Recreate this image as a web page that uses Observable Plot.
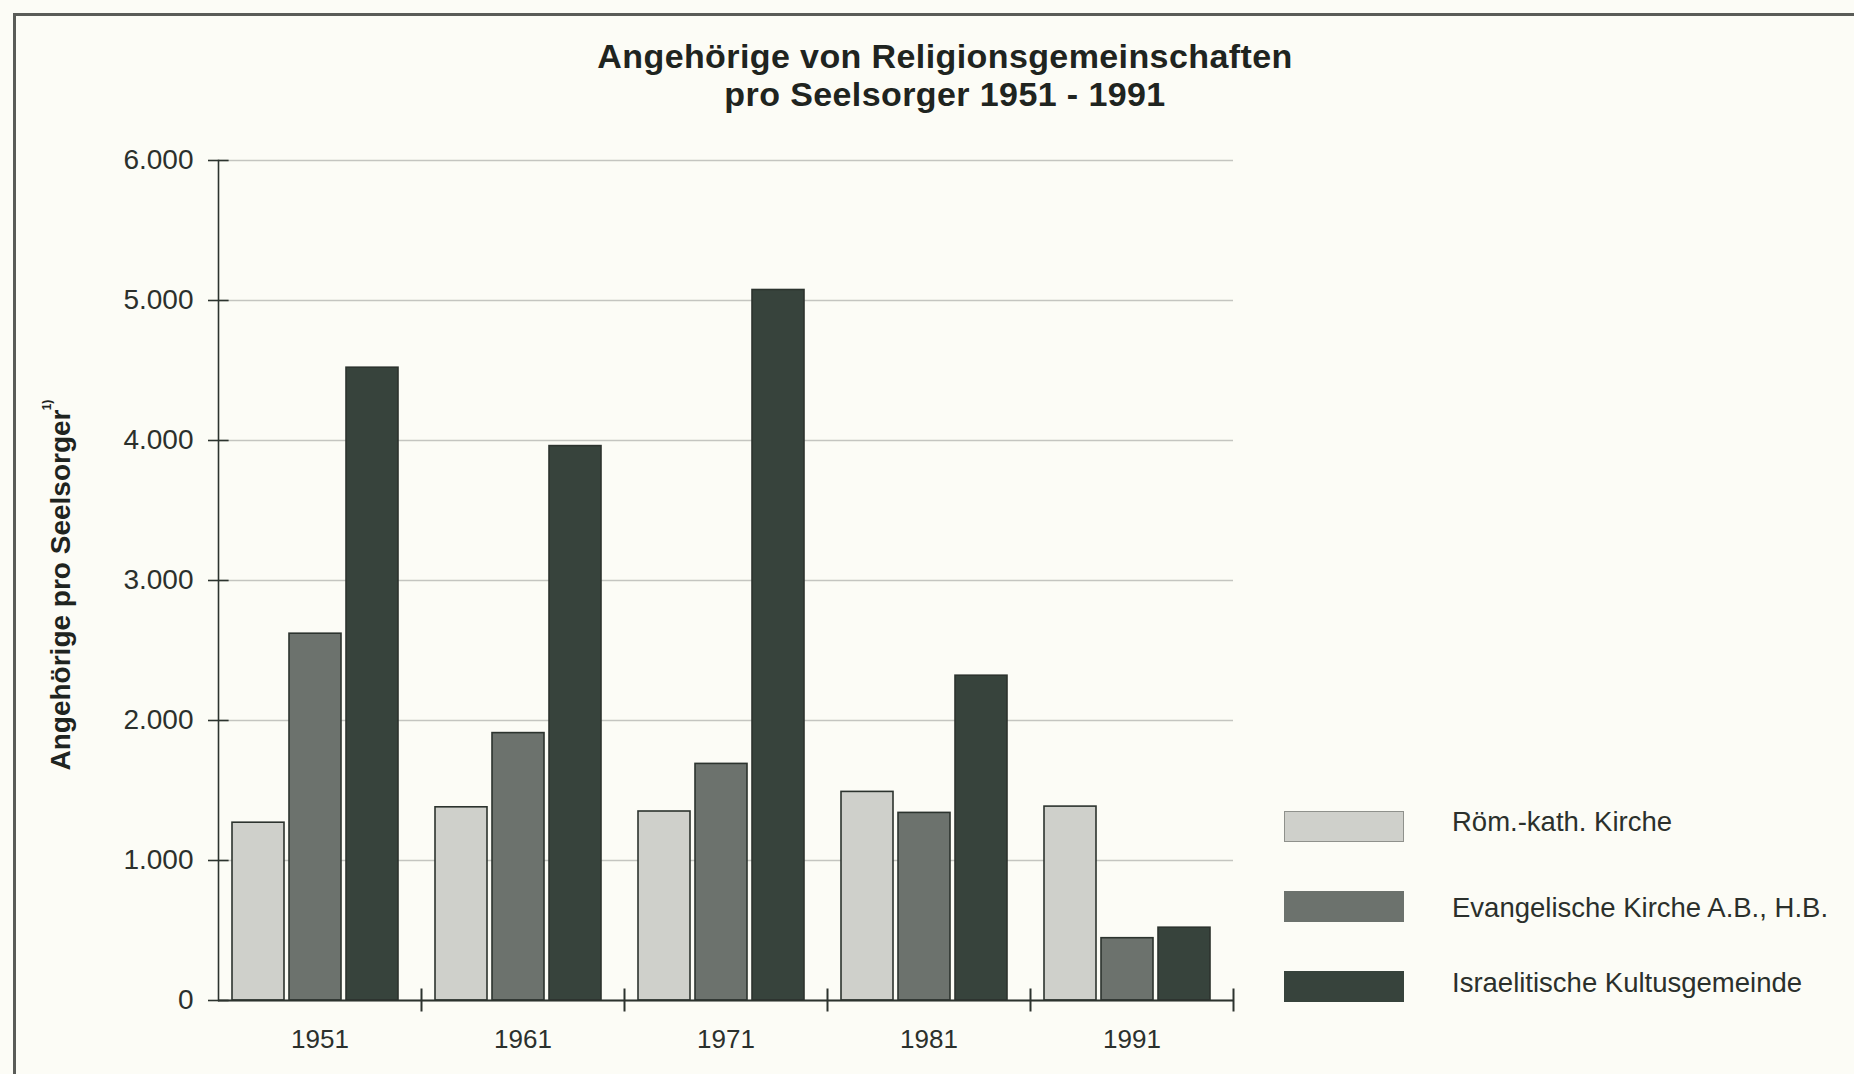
<!DOCTYPE html>
<html>
<head>
<meta charset="utf-8">
<script src="https://cdn.jsdelivr.net/npm/d3@7"></script>
<script src="https://cdn.jsdelivr.net/npm/@observablehq/plot@0.6"></script>
<style>
  html, body { margin: 0; padding: 0; background: #fcfcf6; }
  #page { position: relative; width: 1854px; height: 1074px; overflow: hidden;
          font-family: "Liberation Sans", Arial, Helvetica, sans-serif; color: #2b302c; }
  #border { position: absolute; left: 13px; top: 13px; right: -20px; bottom: -20px;
            border-left: 3px solid #5a5c58; border-top: 3px solid #5a5c58; }
  #title { position: absolute; left: 445px; width: 1000px; top: 37px; text-align: center;
           font-weight: bold; font-size: 34px; line-height: 38px; letter-spacing: 0.4px; color: #1f2420; }
  #chart { position: absolute; left: 0; top: 120px; }
  #ylabel { position: absolute; left: 61px; top: 590px; transform: translate(-50%, -50%) rotate(-90deg);
            white-space: nowrap; font-weight: bold; font-size: 28px; line-height: 1; color: #1f2420; }
  #ynote { position: absolute; left: 47px; top: 405px; transform: translate(-50%, -50%) rotate(-90deg);
           white-space: nowrap; font-weight: bold; font-size: 12px; line-height: 1; color: #1f2420; }
  .sw { position: absolute; left: 1284px; width: 120px; height: 31px; box-sizing: border-box; }
  .lt { position: absolute; left: 1452px; font-size: 27.5px; line-height: 32px; white-space: nowrap; color: #2b302c; }
</style>
</head>
<body>
<div id="page">
  <div id="border"></div>
  <div id="title"></div>
  <div id="chart"></div>
  <div id="ylabel"></div>
  <div id="ynote"></div>
  <div id="legend"></div>
</div>
<script>
// ---- data ----
const titleLines = ["Angehörige von Religionsgemeinschaften", "pro Seelsorger 1951 - 1991"];
const yLabel = "Angehörige pro Seelsorger";
const yNote = "1)";
const years = ["1951", "1961", "1971", "1981", "1991"];
const series = ["Röm.-kath. Kirche", "Evangelische Kirche A.B., H.B.", "Israelitische Kultusgemeinde"];
const roemKath     = [1270, 1380, 1350, 1490, 1385];
const evangelisch  = [2620, 1910, 1690, 1340, 445];
const israelitisch = [4520, 3960, 5075, 2320, 520];
const yTicks = [0, 1000, 2000, 3000, 4000, 5000, 6000];
const colors = ["#cfd0cb", "#6c726d", "#37433c"];

// ---- build table ----
const valuesBySeries = [roemKath, evangelisch, israelitisch];
const data = years.flatMap((yr, i) => series.map((s, j) => ({year: yr, series: s, value: valuesBySeries[j][i]})));

const deFormat = d3.formatLocale({decimal: ",", thousands: ".", grouping: [3], currency: ["", " €"]}).format(",d");

// ---- text ----
document.getElementById("title").innerHTML = titleLines.map(t => `<div>${t}</div>`).join("");
document.getElementById("ylabel").textContent = yLabel;
document.getElementById("ynote").textContent = yNote;

// ---- chart ----
const W = 1854, H = 954, mL = 217, mR = 620, mT = 40, mB = 74;
const innerH = H - mT - mB;
const facetW = (W - mL - mR) / years.length;
const ink = "#2c332e";

const chart = Plot.plot({
  width: W, height: H,
  marginLeft: mL, marginRight: mR, marginTop: mT, marginBottom: mB,
  style: {background: "transparent", fontFamily: '"Liberation Sans", Arial, Helvetica, sans-serif', color: "#2b302c"},
  fx: {domain: years, padding: 0, label: null},
  x: {domain: series, paddingInner: 0.087, paddingOuter: 0.312, align: 0.38, axis: null},
  y: {domain: [0, 6000], label: null},
  color: {domain: series, range: colors},
  marks: [
    Plot.gridY(yTicks, {stroke: "#c4c5c0", strokeOpacity: 1, strokeWidth: 1.5}),
    Plot.barY(data, {fx: "year", x: "series", y: "value", fill: "series", stroke: ink, strokeWidth: 1.6}),
    Plot.ruleY([0], {stroke: ink, strokeWidth: 2}),
    Plot.frame({anchor: "right", stroke: ink, strokeWidth: 2, insetTop: innerH - 11, insetBottom: -10}),
    Plot.frame({anchor: "left", facetAnchor: "left", stroke: ink, strokeWidth: 1.6}),
    Plot.tickY(yTicks, {y: d => d, facetAnchor: "left", stroke: ink, strokeWidth: 1.6, insetLeft: -10, insetRight: facetW - 11}),
    Plot.axisY(yTicks, {anchor: "left", tickSize: 0, tickPadding: 25, tickFormat: deFormat, fontSize: 28, fill: "#2b302c", label: null}),
    Plot.axisFx({anchor: "bottom", tickSize: 0, tickPadding: 29, fontSize: 26, fill: "#2b302c", label: null})
  ]
});
document.getElementById("chart").appendChild(chart);

// ---- legend ----
const legendTops = [811, 891, 971];
const legendBaselineShift = [-5, 1, -4];
const legend = document.getElementById("legend");
series.forEach((s, i) => {
  const sw = document.createElement("div");
  sw.className = "sw";
  sw.style.top = legendTops[i] + "px";
  sw.style.background = colors[i];
  sw.style.border = i === 0 ? "1.5px solid #8f918c" : "1px solid " + colors[i];
  legend.appendChild(sw);
  const t = document.createElement("div");
  t.className = "lt";
  t.style.top = (legendTops[i] + legendBaselineShift[i]) + "px";
  t.textContent = s;
  legend.appendChild(t);
});
</script>
</body>
</html>
